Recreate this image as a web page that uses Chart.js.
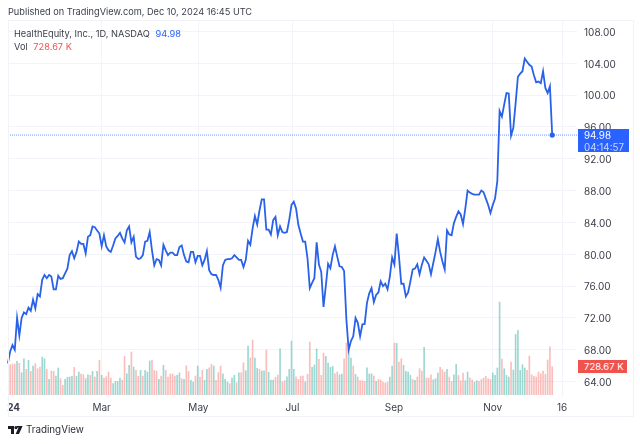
<!DOCTYPE html>
<html>
<head>
<meta charset="utf-8">
<title>HealthEquity</title>
<script src="https://cdn.jsdelivr.net/npm/chart.js@4"></script>
<style>
  html, body { margin: 0; padding: 0; background: #fff; }
  body { width: 640px; height: 444px; position: relative; overflow: hidden; font-family: Inter, sans-serif; color: #3a3e4a; }
  #wrap { position: absolute; left: 0; top: 0; width: 640px; height: 444px; }
  .abs { position: absolute; white-space: nowrap; }
  #frame { left: 8px; top: 20px; width: 624px; height: 395px; border: 1px solid #f1f3f8; }
  .badge { text-align: left; color: #fff; font-family: Inter, sans-serif; font-size: 9.8px; }
</style>
</head>
<body>
<div id="wrap"><canvas id="myChart" width="640" height="444"></canvas></div>
<div id="frame" class="abs"></div>

<div class="abs" style="left:8px;top:6px;font-size:9.2px;line-height:12px;">Published on TradingView.com, Dec 10, 2024 16:45 UTC</div>
<div class="abs" style="left:14px;top:28px;font-size:9.25px;line-height:12px;">HealthEquity, Inc., 1D, NASDAQ <span style="color:#2962ff;margin-left:3px;">94.98</span></div>
<div class="abs" style="left:14px;top:41px;font-size:9.25px;line-height:12px;">Vol <span style="color:#ef5350;margin-left:3px;">728.67 K</span></div>

<div class="abs badge" style="left:578px;top:129px;width:45px;height:23px;padding-left:6px;background:#2962ff;line-height:11.5px;"><div style="position:relative;top:1px;">94.98<br><span style="color:#c9d7ff;">04:14:57</span></div></div>
<div class="abs badge" style="left:578px;top:360px;width:43px;height:13px;padding-left:6px;background:#ef5350;line-height:13px;font-size:9.5px;">728.67 K</div>

<svg class="abs" style="left:8px;top:426px;" width="15" height="9" viewBox="0 0 15 9">
  <path d="M0 0H6V8H3V3H0Z M9 0H14.6L11 8H7.6L10.6 1.6H9Z" fill="#1a1d26"/>
  <circle cx="8" cy="1.6" r="1.6" fill="#1a1d26"/>
</svg>
<div class="abs" style="left:26px;top:423px;font-size:9.8px;line-height:14px;color:#2a2e39;">TradingView</div>

<script>
const prices = [
  66.3,67.8,68.6,68,72,69.8,72,72.7,72.5,73.3,
  72.9,74.3,73.2,75,74.7,76.8,77.4,77,77.4,77.2,
  75.6,75.6,77.3,76.9,77,77.6,78.2,79.9,80.4,79.5,
  80.3,81.6,81.3,81.3,80.1,82.2,82.4,83.5,83.4,83,
  82.6,81,82.4,81,80.5,80.3,81.1,82,82.3,82.7,
  82,81.5,83,83.5,81.5,82.2,79.7,79.4,79.5,79.9,
  81.6,81.7,82.8,80.5,78.6,79.4,79.3,78.6,81.2,80.5,
  79.9,80.2,80.2,79.9,79.9,80.9,81.1,79.9,79.1,79,
  80.3,80.3,79,79.8,79.8,78.6,79.3,80.4,78,77.5,
  77.4,77.4,76.8,75.8,78.6,79.3,79.4,79.4,79.5,79.9,
  79.6,79.3,79.3,78.4,79.3,81.7,81.2,83.25,84.8,83.75,
  85.5,86.9,86.9,83.1,83.1,82.5,84.3,84.7,82.4,83.5,
  82.8,82.7,82.8,84.3,86.2,86.6,85.75,83.7,82.6,81.6,
  81.6,79.5,75.75,76.4,77,81.5,78.7,77.8,73.4,76,
  78.8,78.25,79.9,81,79.7,78.5,78.4,77.9,71.8,68,
  69.1,69.7,72,71.4,69.7,71.2,71.25,73.9,75.1,75.75,
  74,74.9,75.2,76.6,76,76.3,75.6,77.2,79.6,78.7,
  82.6,79.7,76.3,76.3,74.7,75.2,76.6,78.1,78.2,78.75,
  77.5,78.7,79.6,79.2,78.75,77.5,78.9,80.3,81.9,80.3,
  79.1,78.1,83,82.5,82.4,83.9,84.7,85.4,85,83.8,
  85.75,88,87.75,87.6,87.5,87.5,87.5,88,87.8,87,
  86.2,85.2,86.2,87,89.2,98,97.3,98.8,100.25,100.2,
  94.9,95.9,99,102.3,102.7,103,104.6,104.2,103.8,103.6,
  102.5,101.6,101.7,101.5,103,100.9,100.25,101.1,94.98
];

// volume in thousands
const volumes = [
  607,780,798,798,867,815,572,936,659,893,
  607,746,806,676,720,980,936,659,399,616,
  607,486,694,416,243,399,451,460,477,711,
  477,590,538,520,416,520,503,607,460,607,
  893,503,434,468,590,434,286,347,347,434,
  381,997,546,763,1110,720,633,477,633,486,
  633,590,876,902,633,616,399,486,763,633,
  460,538,538,486,503,564,416,399,754,607,
  373,329,486,746,460,633,373,659,702,789,
  746,373,572,746,546,399,329,286,434,503,
  312,572,572,832,624,1266,954,1422,954,685,
  659,616,624,1162,581,381,381,451,512,1196,
  338,364,468,659,1396,659,468,399,486,486,
  338,529,1370,711,772,1188,919,503,1084,997,
  824,711,737,546,590,520,538,936,1344,1153,
  954,746,529,460,364,364,347,702,538,546,
  486,347,399,381,329,303,329,460,746,1344,
  1335,850,936,763,607,590,503,399,373,460,
  676,616,1231,434,434,520,390,416,564,711,
  650,590,659,460,347,520,789,503,364,564,
  364,590,442,390,329,364,347,399,434,477,
  416,399,564,503,694,2410,928,676,503,460,
  850,642,1569,1673,633,780,694,633,1006,520,
  477,460,590,546,616,529,902,1248,728.67
];

// 1 = teal bar, 0 = red bar
const volUp = [
  1,0,0,0,1,0,1,1,0,1,
  0,1,0,0,0,1,1,0,1,0,
  0,1,1,0,0,1,1,1,1,0,
  1,1,0,0,1,1,0,1,0,1,
  0,1,0,0,0,0,1,1,1,1,
  0,0,1,1,0,1,0,0,1,0,
  1,1,1,0,0,0,1,0,1,0,
  0,0,0,0,1,1,0,1,0,0,
  1,1,0,1,0,0,1,1,0,0,
  1,0,0,0,1,1,1,0,1,1,
  0,1,0,0,1,1,0,0,1,1,
  0,1,1,0,1,1,1,0,0,1,
  0,0,1,1,1,1,0,0,0,0,
  1,0,0,1,1,1,0,0,0,1,
  1,1,1,0,0,1,1,0,0,1,
  1,0,1,0,0,0,0,1,1,1,
  0,1,0,0,0,0,0,1,1,0,
  1,0,0,1,1,1,1,0,1,0,
  0,0,1,0,0,0,1,1,1,0,
  0,0,1,0,0,1,1,0,0,0,
  1,1,0,0,1,1,0,0,0,0,
  0,0,1,1,1,1,0,1,1,1,
  0,1,1,1,1,1,1,0,0,0,
  0,0,0,0,0,0,0,0,0
];

const priceTicks = [64,68,72,76,80,84,88,92,96,100,104,108];
const timeLabels = ["24","Mar","May","Jul","Sep","Nov","16"];
const timeTicks = [2.5,41,83.3,124.4,168.8,212,242.3];
const lastPrice = 94.98;

const xMin = 0.04, xMax = 248.84;

const ctx = document.getElementById("myChart");

const myChart = new Chart(ctx, {
  data: {
    datasets: [
      {
        type: "line",
        label: "HealthEquity",
        order: 1,
        yAxisID: "y",
        data: prices.map((p, i) => ({ x: i, y: p })),
        borderColor: "#2962e8",
        borderWidth: 1.8,
        tension: 0,
        pointBackgroundColor: "#2962e8",
        pointBorderWidth: 0,
        pointRadius: (c) => (c.dataIndex === prices.length - 1 ? 2.6 : 0),
        clip: false,
      },
      {
        type: "line",
        label: "last",
        order: 2,
        yAxisID: "y",
        data: [
          { x: xMin, y: lastPrice },
          { x: xMax, y: lastPrice },
        ],
        borderColor: "rgba(41,98,255,.65)",
        borderWidth: 1,
        borderDash: [1, 1],
        pointRadius: 0,
      },
      {
        type: "bar",
        label: "Vol",
        order: 3,
        yAxisID: "vol",
        data: volumes.map((v, i) => ({ x: i, y: v })),
        backgroundColor: volUp.map((u) => (u ? "rgba(38,166,154,.45)" : "rgba(239,83,80,.38)")),
        barThickness: 1,
      },
    ],
  },
  options: {
    responsive: false,
    animation: false,
    layout: { padding: { left: 8, top: 21, right: 8, bottom: 28 } },
    plugins: { legend: { display: false }, tooltip: { enabled: false } },
    scales: {
      x: {
        type: "linear",
        offset: false,
        min: xMin,
        max: xMax,
        border: { display: false },
        grid: {
          offset: false,
          drawTicks: false,
          color: (c) => (c.index === 0 ? "transparent" : "#f2f4f9"),
        },
        afterBuildTicks: (axis) => {
          axis.ticks = timeTicks.map((t) => ({ value: t }));
        },
        afterFit: (axis) => {
          axis.height = 19;
        },
        ticks: {
          autoSkip: false,
          maxRotation: 0,
          padding: 5,
          color: "#3a3e4a",
          font: (c) => ({ family: "Inter", size: 10, weight: c.index === 0 ? "bold" : "normal" }),
          callback: (v, i) => timeLabels[i],
        },
      },
      y: {
        position: "right",
        min: 62.07,
        max: 109.31,
        border: { display: false },
        grid: { drawTicks: false, color: "#f2f4f9" },
        afterBuildTicks: (axis) => {
          axis.ticks = priceTicks.map((t) => ({ value: t }));
        },
        afterFit: (axis) => {
          axis.width = 55;
        },
        ticks: {
          padding: 7,
          color: "#3a3e4a",
          // blank first line + tiny line height nudges the label down a little
          font: { family: "Inter", size: 10, lineHeight: 0.25 },
          callback: (v) => ["", v.toFixed(2)],
        },
      },
      vol: {
        display: false,
        min: -60,
        max: 9724,
      },
    },
  },
});
</script>
</body>
</html>
